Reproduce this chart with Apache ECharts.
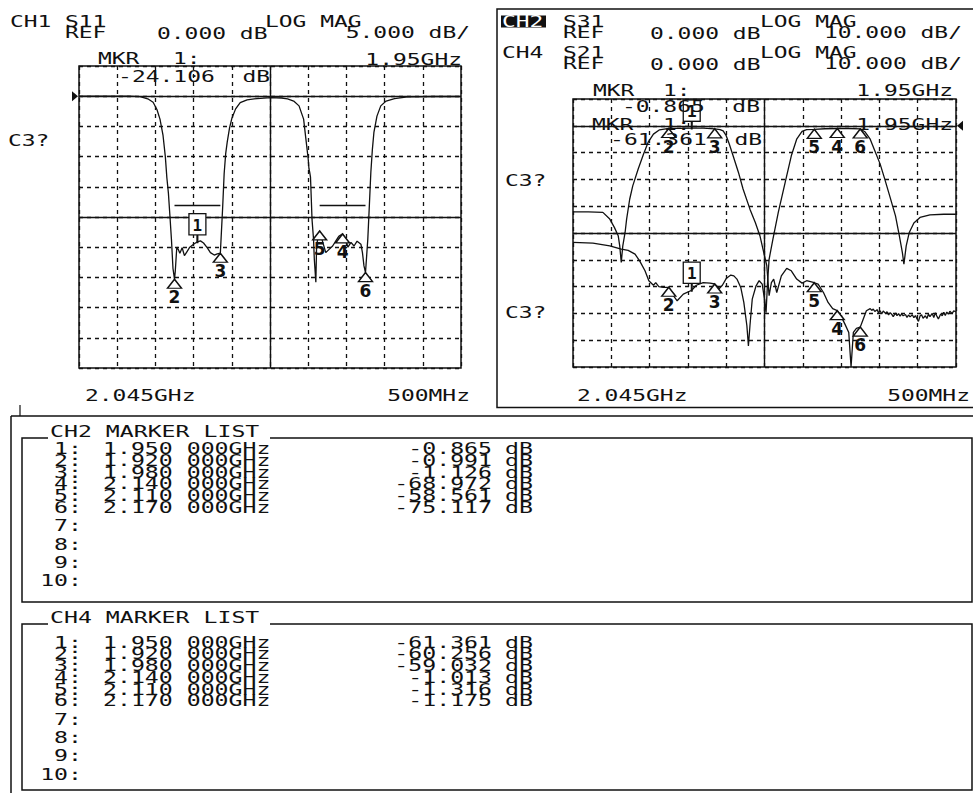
<!DOCTYPE html>
<html><head><meta charset="utf-8">
<script src="https://cdn.jsdelivr.net/npm/echarts@6/dist/echarts.min.js"></script>
<style>html,body{margin:0;padding:0;background:#fff;}#c{width:973px;height:793px;}</style>
</head><body><div id="c"></div>
<script>
// ---------------- data ----------------
const CENTER_GHZ = 2.045;
const SPAN_MHZ = 500;
const markerNumbers = [1, 2, 3, 4, 5, 6];
const markerFreqsGHz = [1.950, 1.920, 1.980, 2.140, 2.110, 2.170];
const ch1MarkerDb = [-24.106, -30.3, -26.0, -22.8, -22.3, -29.2];
const ch2MarkerDb = [-0.865, -0.991, -1.126, -68.972, -58.561, -75.117];
const ch4MarkerDb = [-61.361, -60.256, -59.032, -1.013, -1.316, -1.175];
const ch1LimitSegments = [[1.920, 1.980, -18.0], [2.110, 2.170, -18.0]];
const listRowCount = 10;

const s11Trace = [
[1.795,0.0],[1.830,0.0],[1.860,0.0],[1.875,-0.06],[1.886,-0.5],[1.892,-1.0],[1.897,-2.2],[1.901,-3.8],[1.905,-6.5],[1.908,-10.0],
[1.910,-13.5],[1.912,-16.0],[1.914,-19.8],[1.916,-23.7],[1.918,-28.5],[1.920,-30.3],[1.921,-29.0],[1.923,-25.0],[1.925,-25.4],[1.927,-26.0],
[1.930,-25.1],[1.933,-26.4],[1.936,-25.8],[1.940,-25.0],[1.945,-24.5],[1.950,-24.106],[1.954,-23.95],[1.958,-24.3],[1.963,-25.1],[1.967,-25.9],
[1.972,-26.3],[1.976,-26.1],[1.980,-26.0],[1.981,-23.5],[1.983,-18.5],[1.985,-12.8],[1.987,-9.5],[1.989,-7.6],[1.992,-5.3],[1.995,-3.7],
[2.000,-2.1],[2.006,-1.05],[2.015,-0.6],[2.028,-0.39],[2.046,-0.25],[2.060,-0.3],[2.068,-0.45],[2.076,-0.8],[2.083,-1.6],[2.089,-3.8],
[2.092,-7.1],[2.095,-10.4],[2.096,-12.0],[2.097,-12.6],[2.098,-13.4],[2.099,-16.8],[2.100,-20.4],[2.102,-23.7],[2.103,-27.0],[2.105,-30.8],
[2.106,-24.8],[2.108,-23.2],[2.110,-22.3],[2.113,-23.7],[2.118,-25.9],[2.122,-25.4],[2.127,-24.8],[2.131,-24.0],[2.135,-23.2],[2.140,-22.8],
[2.144,-23.7],[2.147,-25.0],[2.151,-24.2],[2.155,-24.8],[2.159,-24.0],[2.164,-24.5],[2.166,-25.9],[2.168,-28.1],[2.170,-29.2],[2.173,-23.7],
[2.175,-18.2],[2.177,-12.6],[2.179,-8.8],[2.181,-6.0],[2.185,-3.3],[2.190,-1.6],[2.197,-0.8],[2.208,-0.4],[2.225,-0.1],[2.260,-0.05],[2.295,-0.05]
];

const s31Trace = [
[1.795,-32.1],[1.815,-32.1],[1.834,-32.3],[1.843,-34.8],[1.849,-37.9],[1.854,-41.0],[1.856,-44.8],[1.858,-51.0],[1.860,-44.8],[1.863,-39.8],
[1.865,-34.8],[1.869,-27.4],[1.873,-22.4],[1.880,-16.2],[1.887,-10.6],[1.893,-6.2],[1.900,-3.1],[1.908,-1.5],[1.920,-0.991],[1.934,-0.95],
[1.950,-0.865],[1.965,-0.9],[1.980,-1.126],[1.987,-1.4],[1.991,-1.9],[1.995,-3.7],[1.999,-6.8],[2.004,-11.2],[2.011,-17.4],[2.017,-23.6],
[2.026,-31.1],[2.033,-36.1],[2.039,-41.0],[2.043,-46.0],[2.048,-52.2],[2.051,-63.4],[2.054,-58.5],[2.057,-57.2],[2.061,-62.2],[2.067,-56.0],
[2.074,-53.2],[2.080,-54.1],[2.087,-57.2],[2.094,-58.7],[2.100,-57.8],[2.110,-58.561],[2.115,-59.1],[2.122,-62.2],[2.128,-65.9],[2.134,-68.2],
[2.140,-68.972],[2.145,-71.1],[2.150,-74.0],[2.155,-77.1],[2.158,-90.0],[2.161,-77.1],[2.165,-75.6],[2.170,-75.117],[2.173,-72.8],[2.178,-69.0],
[2.183,-68.2],[2.185,-68.9],[2.187,-68.4],[2.189,-69.3],[2.192,-68.6],[2.194,-69.8],[2.196,-69.0],[2.198,-70.2],[2.200,-69.1],[2.203,-70.0],
[2.205,-69.4],[2.207,-70.6],[2.209,-69.7],[2.211,-70.3],[2.213,-71.2],[2.216,-69.9],[2.218,-70.8],[2.220,-70.1],[2.222,-71.0],[2.224,-70.2],
[2.226,-70.9],[2.229,-70.4],[2.231,-71.5],[2.233,-70.6],[2.235,-71.3],[2.238,-70.5],[2.240,-71.6],[2.242,-70.8],[2.244,-72.0],[2.246,-73.0],
[2.248,-71.0],[2.250,-70.5],[2.252,-71.8],[2.255,-70.9],[2.257,-71.9],[2.259,-70.3],[2.261,-71.2],[2.264,-70.0],[2.266,-71.5],[2.268,-69.8],
[2.270,-71.0],[2.272,-72.1],[2.275,-70.2],[2.277,-70.9],[2.279,-69.6],[2.281,-70.8],[2.283,-69.5],[2.285,-70.3],[2.287,-69.2],[2.290,-70.1],
[2.292,-69.0],[2.295,-69.5]
];

const s21Trace = [
[1.795,-43.5],[1.821,-43.8],[1.843,-44.8],[1.858,-46.0],[1.867,-46.5],[1.876,-47.9],[1.882,-50.4],[1.889,-54.1],[1.894,-57.8],[1.900,-59.5],
[1.903,-58.5],[1.907,-60.0],[1.913,-60.3],[1.920,-60.256],[1.926,-63.4],[1.931,-65.3],[1.939,-62.8],[1.950,-61.361],[1.956,-59.5],[1.965,-58.5],
[1.974,-58.7],[1.980,-59.032],[1.986,-60.7],[1.990,-59.5],[1.995,-57.0],[2.001,-55.7],[2.005,-56.0],[2.009,-57.2],[2.014,-60.3],[2.018,-65.9],
[2.022,-74.6],[2.024,-82.1],[2.026,-74.6],[2.029,-64.7],[2.034,-59.7],[2.038,-57.8],[2.042,-59.1],[2.045,-64.7],[2.047,-69.7],[2.049,-58.5],
[2.051,-49.8],[2.056,-42.3],[2.063,-32.3],[2.072,-21.1],[2.080,-11.2],[2.087,-5.0],[2.094,-2.1],[2.100,-1.4],[2.110,-1.316],[2.124,-1.1],
[2.140,-1.013],[2.155,-1.0],[2.170,-1.175],[2.176,-2.2],[2.183,-5.0],[2.189,-9.3],[2.196,-14.3],[2.202,-19.9],[2.209,-26.7],[2.216,-33.6],
[2.221,-41.0],[2.225,-47.3],[2.227,-51.6],[2.230,-44.8],[2.234,-39.8],[2.240,-36.3],[2.248,-34.2],[2.261,-33.2],[2.279,-33.0],[2.295,-33.0]
];

// ---------------- chart ----------------
const INK = '#111111';
const MONO = "'DejaVu Sans Mono', 'Liberation Mono', monospace";
const HALF = SPAN_MHZ / 2;
function toX(f) { return Math.round((f - CENTER_GHZ) * 10000) / 10; } // MHz offset from centre

function axisX(gi) {
  return { gridIndex: gi, type: 'value', min: -HALF, max: HALF, interval: 50,
    axisLine: { show: false }, axisTick: { show: false }, axisLabel: { show: false },
    splitLine: { show: true, lineStyle: { color: INK, width: 1.3, type: [4, 4] } } };
}
function axisY(gi, min, max, iv) {
  return { gridIndex: gi, type: 'value', min: min, max: max, interval: iv,
    axisLine: { show: false }, axisTick: { show: false }, axisLabel: { show: false },
    splitLine: { show: true, lineStyle: { color: INK, width: 1.3, type: [4, 4] } } };
}
function traceSeries(name, data, gi, extra) {
  return Object.assign({
    name: name, type: 'line', xAxisIndex: gi, yAxisIndex: gi,
    data: data.map(p => [toX(p[0]), p[1]]),
    showSymbol: false, symbol: 'none', clip: true, silent: true, animation: false, z: 3,
    lineStyle: { color: INK, width: 1.3 }
  }, extra || {});
}
function solidLines(list, centreDb) {
  return { silent: true, symbol: ['none', 'none'], animation: false, label: { show: false },
    lineStyle: { color: INK, width: 1.4, type: 'solid' },
    data: [{ xAxis: 0 }, { yAxis: centreDb }, { yAxis: 0 }].concat(list || []) };
}
function refArrow(atX, rot, off) {
  return { silent: true, animation: false, label: { show: false },
    data: [{ coord: [atX, 0], symbol: 'triangle', symbolSize: [10, 6], symbolRotate: rot, symbolOffset: [off, 0], itemStyle: { color: INK, opacity: 1 } }] };
}
function markerSeries(name, dbs, gi) {
  return {
    name: name, type: 'scatter', xAxisIndex: gi, yAxisIndex: gi, animation: false, silent: true, z: 6,
    data: markerFreqsGHz.map((f, i) => {
      const item = { value: [toX(f), dbs[i]], name: String(markerNumbers[i]) };
      if (i === 0) {
        item.symbol = 'rect'; item.symbolSize = [1.3, 6]; item.symbolOffset = [0, -3];
        item.itemStyle = { color: INK, opacity: 1 };
        item.label = { show: true, position: 'top', distance: 0, formatter: '{b}', color: INK, fontSize: 16,
          fontWeight: 'bold', fontFamily: MONO, backgroundColor: '#fff', borderColor: INK, borderWidth: 1.3, padding: [3, 3, 1, 3] };
      }
      return item;
    }),
    symbol: 'triangle', symbolSize: [14, 9], symbolOffset: [0, 4.5],
    itemStyle: { color: '#fff', borderColor: INK, borderWidth: 1.4, opacity: 1 },
    label: { show: true, position: 'bottom', distance: 0, formatter: '{b}', color: INK, fontSize: 17, fontWeight: 'bold', fontFamily: "'DejaVu Sans', sans-serif" }
  };
}

// graphic helpers
function txt(s, x, y, o) {
  o = o || {};
  const al = o.align || 'left';
  return { type: 'text', x: x, y: y, scaleX: o.sx || 1.53, z: 100, silent: true,
    style: { text: s, x: 0, y: 0, fill: o.fill || INK, fontSize: o.fs || 15, fontFamily: MONO,
      fontWeight: o.fw || 'normal', textAlign: al, align: al, textVerticalAlign: 'middle', verticalAlign: 'middle' } };
}
function ln(x1, y1, x2, y2, w) {
  return { type: 'line', z: 100, silent: true, shape: { x1: x1, y1: y1, x2: x2, y2: y2 }, style: { stroke: INK, lineWidth: w || 1.5 } };
}
function box(x, y, w, h, fill, lw) {
  return { type: 'rect', z: 99, silent: true, shape: { x: x, y: y, width: w, height: h }, style: { fill: fill || 'none', stroke: fill ? 'none' : INK, lineWidth: lw || 1.5 } };
}

const els = [];
// left panel header
els.push(txt('CH1', 10, 21.5), txt('S11', 65, 21.5), txt('LOG MAG', 265, 22), txt('REF', 65, 33),
  txt('0.000 dB', 157, 34), txt('5.000 dB/', 470, 33, { align: 'right' }),
  txt('MKR', 98, 59), txt('1:', 173, 59), txt('1.95GHz', 462, 59.5, { align: 'right' }),
  txt('-' + Math.abs(ch1MarkerDb[0]).toFixed(3) + '  dB', 270, 76.5, { align: 'right' }),
  txt('C3?', 8, 141), txt('2.045GHz', 85, 396), txt('500MHz', 470, 396, { align: 'right' }));
// right panel
els.push(box(497, 9, 480, 398.5));
els.push(box(501, 15.5, 45, 12, INK), txt('CH2', 502, 21.5, { fill: '#fff' }), txt('S31', 563, 21.5), txt('LOG MAG', 760, 22),
  txt('REF', 563, 33), txt('0.000 dB', 650, 34), txt('10.000 dB/', 962, 33, { align: 'right' }),
  txt('CH4', 502, 52.5), txt('S21', 563, 52.5), txt('LOG MAG', 760, 53),
  txt('REF', 563, 64), txt('0.000 dB', 650, 64.5), txt('10.000 dB/', 962, 64, { align: 'right' }),
  txt('MKR', 593, 91), txt('1:', 663, 91), txt('1.95GHz', 953, 91, { align: 'right' }),
  txt(ch2MarkerDb[0].toFixed(3) + '  dB', 760, 107, { align: 'right' }),
  txt('MKR', 592, 125), txt('1:', 663, 125), txt('1.95GHz', 953, 125, { align: 'right' }),
  txt(ch4MarkerDb[0].toFixed(3) + '  dB', 762, 140, { align: 'right' }),
  txt('C3?', 505, 181), txt('C3?', 505, 313),
  txt('2.045GHz', 577, 396), txt('500MHz', 970, 396, { align: 'right' }));
// marker list area
els.push(ln(11, 416, 973, 416), ln(11, 416, 11, 793), ln(20, 405, 20, 416, 1.2));
function markerList(title, dbs, boxTop, boxH, row0) {
  els.push(box(22, boxTop, 950, boxH));
  els.push(box(48, boxTop - 3, 222, 6, '#fff'));
  els.push(txt(title, 50, boxTop - 6.5, { fs: 16, sx: 1.45 }));
  for (let i = 0; i < listRowCount; i++) {
    const y = row0 + (i < 6 ? i * 11.7 : 5 * 11.7 + (i - 5) * 18.4);
    els.push(txt((i + 1) + ':', 82, y, { fs: 16, sx: 1.45, align: 'right' }));
    if (i < markerFreqsGHz.length) {
      els.push(txt(markerFreqsGHz[i].toFixed(3) + ' 000GHz', 103, y, { fs: 16, sx: 1.45 }));
      els.push(txt(dbs[i].toFixed(3), 492, y, { fs: 16, sx: 1.45, align: 'right' }));
      els.push(txt('dB', 505, y, { fs: 16, sx: 1.45 }));
    }
  }
}
markerList('CH2 MARKER LIST', ch2MarkerDb, 438, 164, 449);
markerList('CH4 MARKER LIST', ch4MarkerDb, 624, 166, 642.5);

const limitMarks = ch1LimitSegments.map(s => [{ coord: [toX(s[0]), s[2]] }, { coord: [toX(s[1]), s[2]] }]);

const option = {
  backgroundColor: '#fff',
  animation: false,
  grid: [
    { left: 79, top: 66, width: 382, height: 302, show: true, borderColor: INK, borderWidth: 1.5, backgroundColor: 'transparent', containLabel: false, outerBoundsMode: 'none' },
    { left: 573, top: 99, width: 383, height: 268, show: true, borderColor: INK, borderWidth: 1.5, backgroundColor: 'transparent', containLabel: false, outerBoundsMode: 'none' }
  ],
  xAxis: [axisX(0), axisX(1)],
  yAxis: [axisY(0, -45, 5, 5), axisY(1, -90, 10, 10)],
  series: [
    traceSeries('S11', s11Trace, 0, { markLine: solidLines(limitMarks, -20), markPoint: refArrow(-HALF, -90, -4) }),
    markerSeries('CH1 markers', ch1MarkerDb, 0),
    traceSeries('S31', s31Trace, 1, { markLine: solidLines([], -40), markPoint: refArrow(HALF, 90, 4) }),
    traceSeries('S21', s21Trace, 1),
    markerSeries('CH2 markers', ch2MarkerDb, 1),
    markerSeries('CH4 markers', ch4MarkerDb, 1)
  ],
  graphic: { elements: els }
};
const chart = echarts.init(document.getElementById('c'), null, { renderer: 'svg' });
chart.setOption(option);
</script></body></html>
